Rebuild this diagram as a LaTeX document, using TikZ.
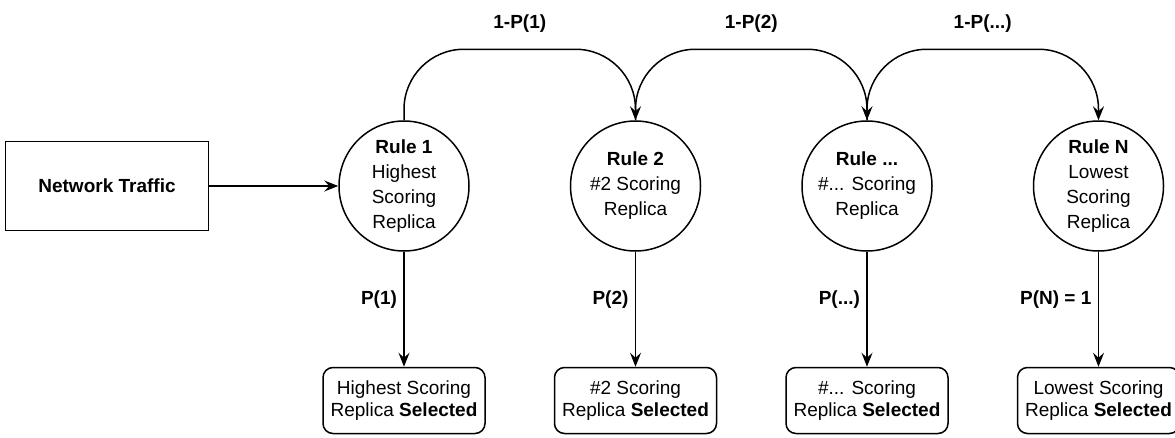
\documentclass[tikz,border=0pt]{standalone}
\usepackage{fontspec}
\setmainfont{Liberation Sans}
\usetikzlibrary{arrows.meta,positioning}

\begin{document}
\begin{tikzpicture}[->,>={Stealth[length=14pt,width=11pt,inset=5pt]},line width=1.5pt,auto,
  x=1pt,y=1pt,node distance=100pt,
  rule/.style={circle,draw,minimum size=130pt,inner sep=0pt,align=center,font=\fontsize{19}{25}\selectfont},
  pick/.style={rectangle,rounded corners=10pt,draw,minimum width=162pt,minimum height=66pt,align=center,font=\fontsize{19}{22}\selectfont},
  lbl/.style={font=\fontsize{19}{22}\selectfont\bfseries}]
  \useasboundingbox (-107,-251) rectangle (1068,186);
  \node[draw,minimum width=203pt,minimum height=89pt,lbl] (net) {Network Traffic};
  \node[rule] (r1) [right=129pt of net] {\textbf{Rule 1}\\Highest\\Scoring\\Replica};
  \node[rule] (r2) [right=of r1] {\textbf{Rule 2}\\\#2 Scoring\\Replica};
  \node[rule] (r3) [right=of r2] {\textbf{Rule ...}\\\#... Scoring\\Replica};
  \node[rule] (rn) [right=of r3] {\textbf{Rule N}\\Lowest\\Scoring\\Replica};
  \node[pick] (s1) [below=115pt of r1] {Highest Scoring\\Replica \textbf{Selected}};
  \node[pick] (s2) [below=115pt of r2] {\#2 Scoring\\Replica \textbf{Selected}};
  \node[pick] (s3) [below=115pt of r3] {\#... Scoring\\Replica \textbf{Selected}};
  \node[pick] (sn) [below=115pt of rn] {Lowest Scoring\\Replica \textbf{Selected}};
\path (net) edge (r1)
  (r1) edge node[left=3pt,pos=0.42,lbl] {P(1)} (s1)
  (r2) edge node[left=3pt,pos=0.42,lbl] {P(2)} (s2)
  (r3) edge node[left=3pt,pos=0.42,lbl] {P(...)} (s3)
  (rn) edge node[left=3pt,pos=0.42,lbl] {P(N) = 1} (sn);
\draw[rounded corners=60pt] (r1.north) -- ++(0,71) -| node[pos=0.25,above=13pt,lbl] {1-P(1)} (r2.north);
\draw[rounded corners=60pt] (r2.north) -- ++(0,71) -| node[pos=0.25,above=13pt,lbl] {1-P(2)} (r3.north);
\draw[rounded corners=60pt] (r3.north) -- ++(0,71) -| node[pos=0.25,above=13pt,lbl] {1-P(...)} (rn.north);
\end{tikzpicture}
\end{document}
